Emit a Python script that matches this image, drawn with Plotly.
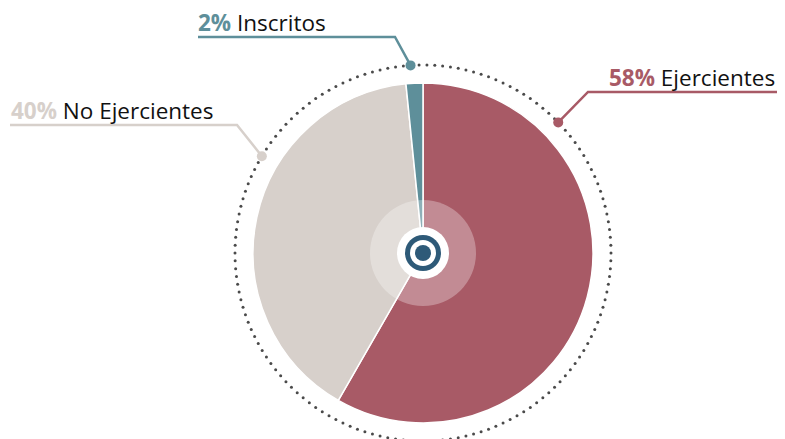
import numpy as np
import plotly.graph_objects as go

categories = ["Ejercientes", "No Ejercientes", "Inscritos"]
values = [58.3, 40.1, 1.6]
pct_labels = ["58%", "40%", "2%"]
colors = ["#a85a66", "#d7d0cb", "#5e8f9a"]

W, H = 785, 439
OFF = 8  # page body margin
FW, FH = W - OFF, H - OFF
cx, cy, R = 423, 253, 170
R_dot = 188

fig = go.Figure()

fig.add_trace(go.Pie(
    labels=categories, values=values, sort=False, direction="clockwise", rotation=0,
    marker=dict(colors=colors, line=dict(color="white", width=1.5)),
    textinfo="none", hoverinfo="label+percent", showlegend=False,
    domain=dict(x=[(cx - OFF - R) / FW, (cx - OFF + R) / FW],
                y=[(H - cy - R) / FH, (H - cy + R) / FH]),
))

# dotted ring
n = 150
th = np.linspace(0, 2 * np.pi, n, endpoint=False)
fig.add_trace(go.Scatter(
    x=cx + R_dot * np.cos(th), y=cy + R_dot * np.sin(th), mode="markers",
    marker=dict(size=3, color="#4a4a4a"), hoverinfo="skip", showlegend=False,
))

leaders = {
    "Ejercientes": dict(ang=46, elbow=(588, 92), end=785, tx=776, ty=77, anchor="right"),
    "No Ejercientes": dict(ang=-59, elbow=(237, 125), end=10, tx=10, ty=110, anchor="left"),
    "Inscritos": dict(ang=-3.8, elbow=(395, 37), end=198, tx=197, ty=22, anchor="left"),
}

shapes = []
annotations = []
for cat, pct, col in zip(categories, pct_labels, colors):
    L = leaders[cat]
    a = np.deg2rad(L["ang"])
    dx, dy = cx + R_dot * np.sin(a), cy - R_dot * np.cos(a)
    ex, ey = L["elbow"]
    fig.add_trace(go.Scatter(
        x=[dx, ex, L["end"]], y=[dy, ey, ey], mode="lines",
        line=dict(color=col, width=2.5), hoverinfo="skip", showlegend=False,
    ))
    fig.add_trace(go.Scatter(
        x=[dx], y=[dy], mode="markers", marker=dict(size=10, color=col),
        hoverinfo="skip", showlegend=False,
    ))
    annotations.append(dict(
        x=L["tx"], y=L["ty"], xref="x", yref="y", showarrow=False,
        xanchor=L["anchor"], yanchor="middle", borderpad=0,
        text=f"<b><span style='color:{col}'>{pct}</span></b> {cat}",
        font=dict(family="Open Sans", size=22.5, color="#111111"),
    ))

def circ(r, **kw):
    return dict(type="circle", xref="x", yref="y", x0=cx - r, x1=cx + r, y0=cy - r, y1=cy + r,
                layer="above", **kw)

shapes.append(circ(53, fillcolor="rgba(255,255,255,0.3)", line=dict(width=0)))
shapes.append(circ(26, fillcolor="white", line=dict(width=0)))
shapes.append(circ(18, fillcolor="#2e5a78", line=dict(width=0)))
shapes.append(circ(13, fillcolor="white", line=dict(width=0)))
shapes.append(circ(8, fillcolor="#2e5a78", line=dict(width=0)))

fig.update_layout(
    width=FW, height=FH, margin=dict(l=0, r=0, t=0, b=0),
    paper_bgcolor="white", plot_bgcolor="rgba(0,0,0,0)",
    xaxis=dict(range=[OFF, W], visible=False, fixedrange=True),
    yaxis=dict(range=[H, OFF], visible=False, fixedrange=True),
    shapes=shapes, annotations=annotations,
)

fig.write_html("out.html")
